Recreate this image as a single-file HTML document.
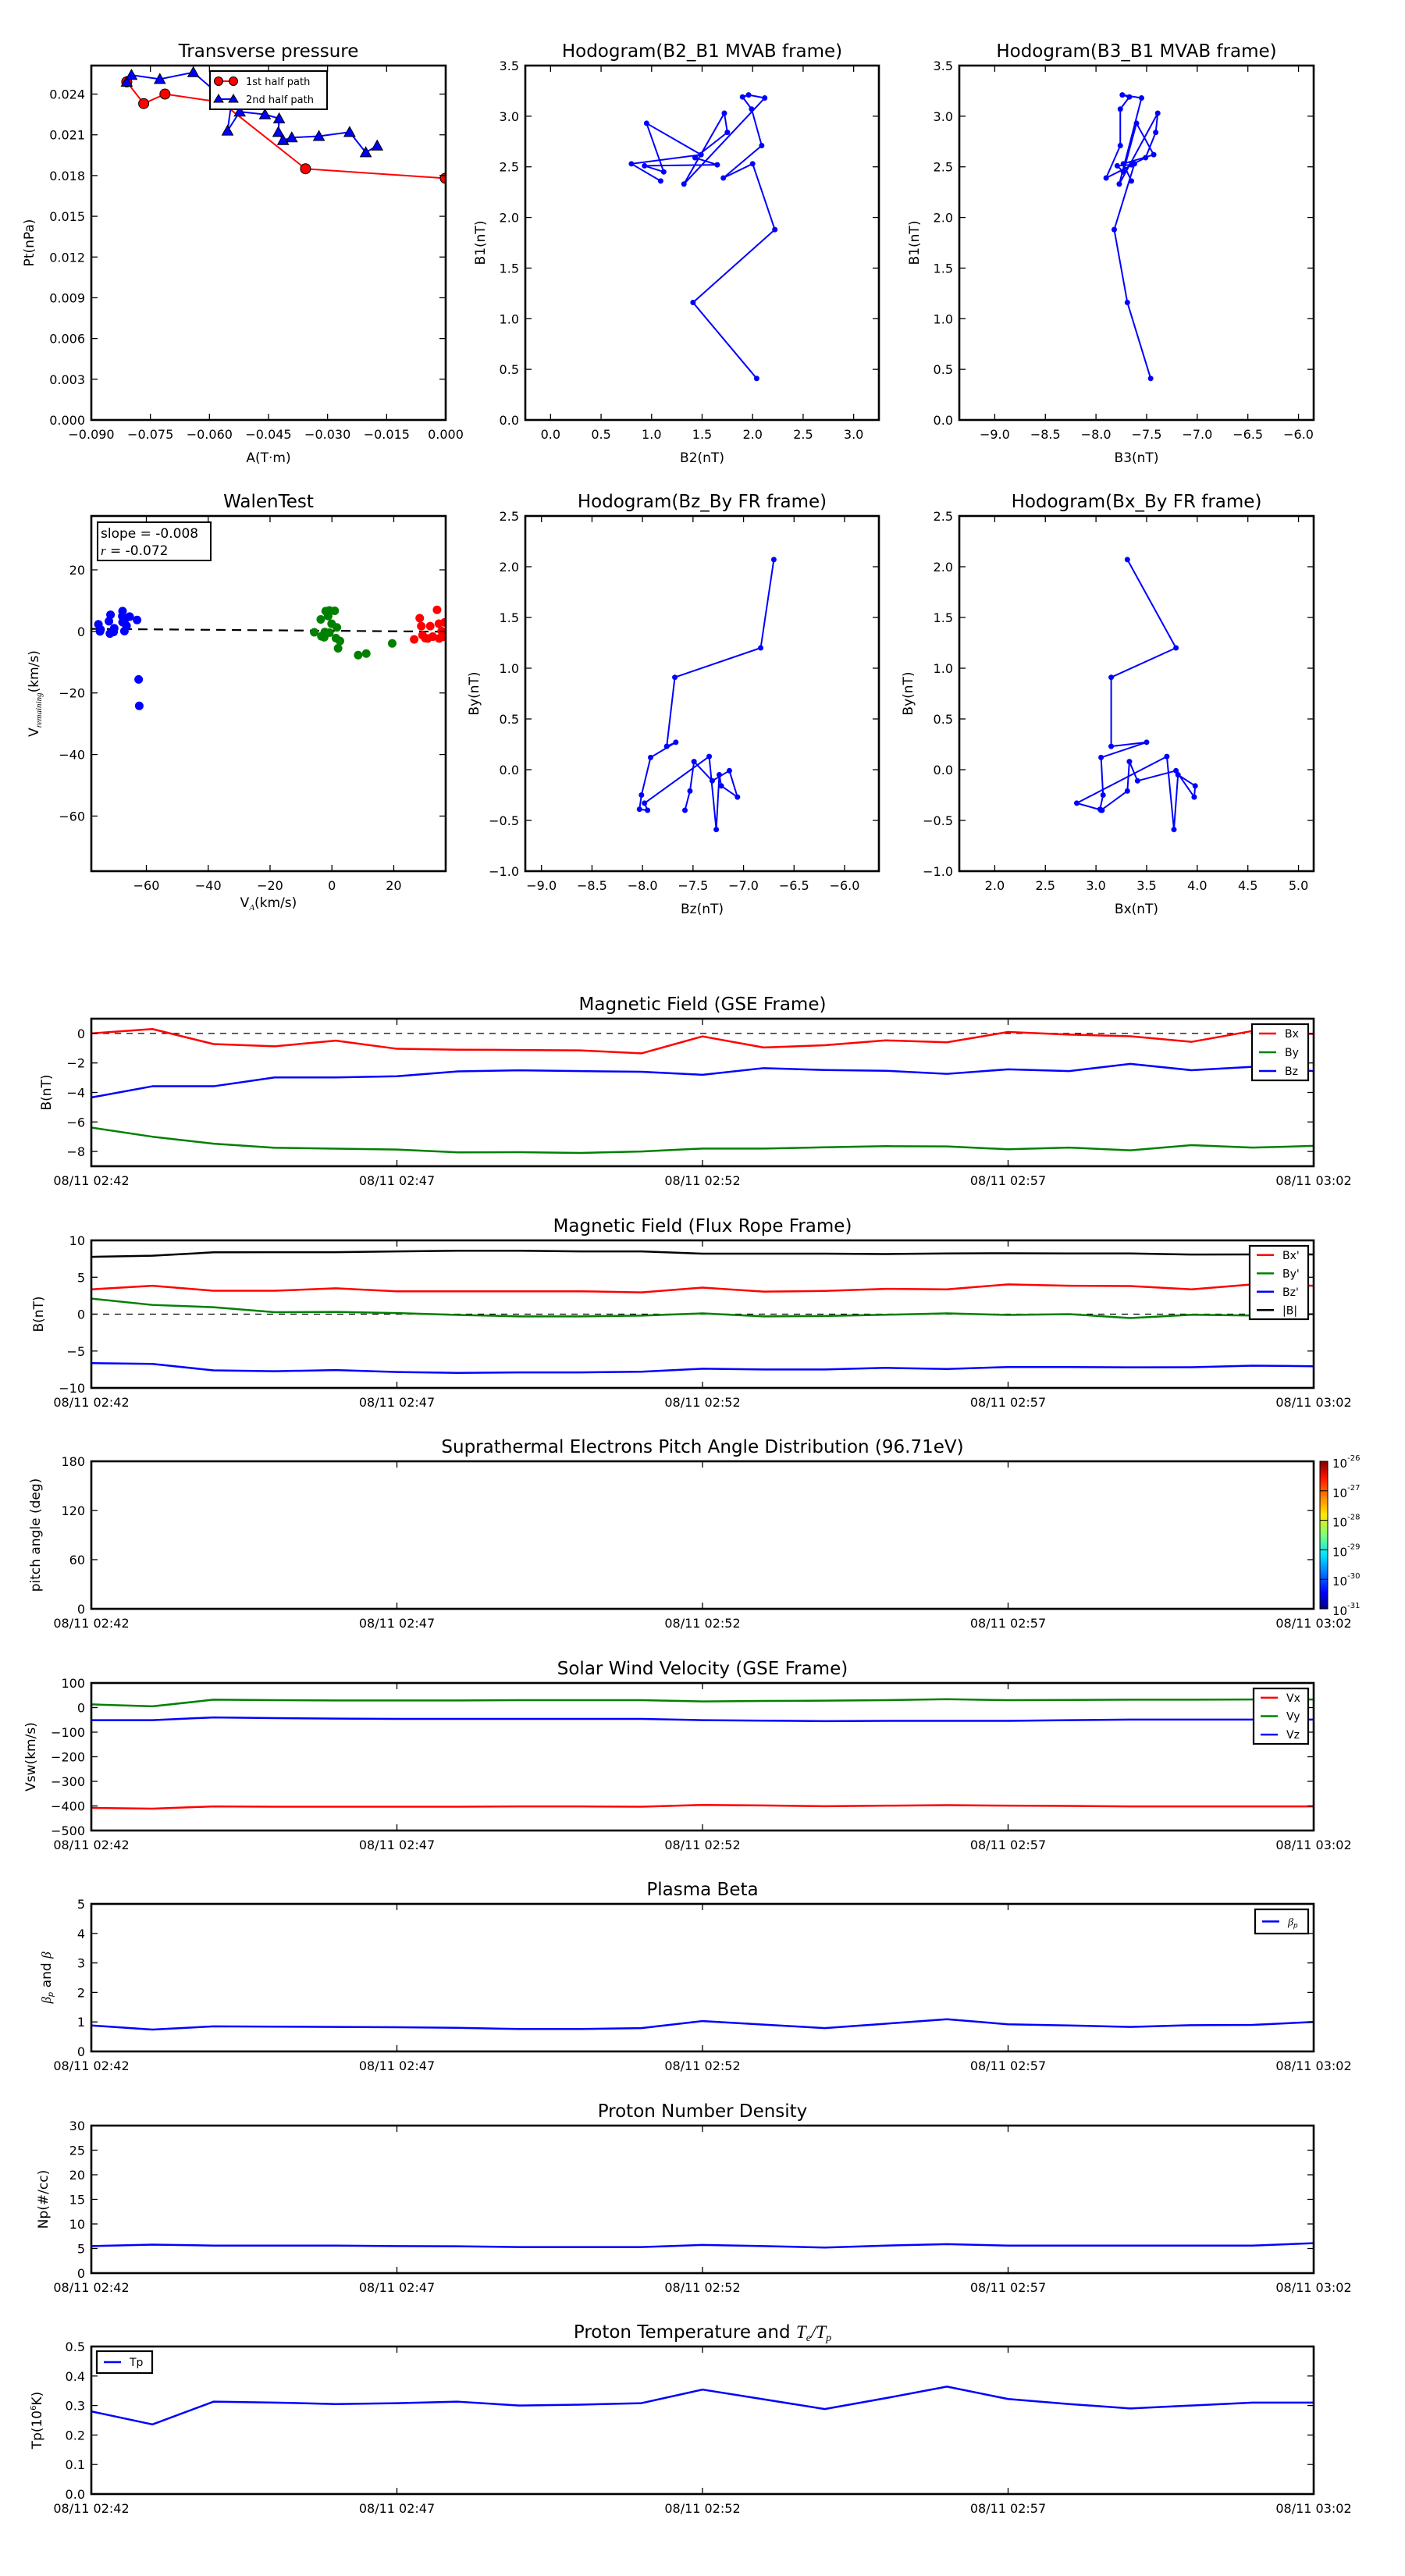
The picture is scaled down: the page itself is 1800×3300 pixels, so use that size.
<!DOCTYPE html>
<html><head><meta charset="utf-8">
<style>
html,body{margin:0;padding:0;background:#fff;}
svg{display:block;font-family:"DejaVu Sans","Liberation Sans",sans-serif;}
</style></head>
<body>
<svg id="fig" xmlns="http://www.w3.org/2000/svg" width="1800" height="3300" viewBox="0 0 1800 3300">
<defs>
<linearGradient id="jet" x1="0" y1="1" x2="0" y2="0">
<stop offset="0" stop-color="#00007f"/><stop offset="0.11" stop-color="#0000ff"/><stop offset="0.36" stop-color="#00e0ff"/><stop offset="0.5" stop-color="#7dff7a"/><stop offset="0.64" stop-color="#ffe600"/><stop offset="0.89" stop-color="#ff1300"/><stop offset="1" stop-color="#7f0000"/>
</linearGradient>
</defs>
</svg>
<script>
// ---------- data ----------
const tpA=[-0.0810,-0.0767,-0.0713,-0.0570,-0.0356,-0.0001];
const tpPtA=[0.0249,0.0233,0.0240,0.0234,0.0185,0.0178];
const tpB=[-0.0810,-0.0798,-0.0726,-0.0641,-0.0545,-0.0554,-0.0523,-0.0459,-0.0423,-0.0425,-0.0413,-0.0391,-0.0322,-0.0244,-0.0203,-0.0174];
const tpPtB=[0.0249,0.0254,0.0251,0.0256,0.0232,0.0213,0.0227,0.0225,0.0222,0.0212,0.0206,0.0208,0.0209,0.0212,0.0197,0.0202];
const mvB1=[0.41,1.16,1.88,2.53,2.39,2.71,3.07,3.19,3.21,3.18,2.33,3.03,2.84,2.59,2.52,2.51,2.45,2.93,2.62,2.53,2.36];
const mvB2=[2.04,1.41,2.22,2.0,1.71,2.09,1.99,1.9,1.96,2.12,1.32,1.72,1.75,1.43,1.65,0.93,1.12,0.95,1.49,0.8,1.09];
const mvB3=[-7.46,-7.69,-7.82,-7.62,-7.90,-7.76,-7.76,-7.67,-7.74,-7.55,-7.77,-7.39,-7.41,-7.51,-7.65,-7.79,-7.73,-7.60,-7.43,-7.73,-7.65];
const walBlueX=[-75.5,-75,-74.8,-72.1,-71.6,-71.8,-70.6,-70.4,-67.7,-67.8,-67.7,-66.9,-67.1,-66.4,-65.4,-63,-62.5,-62.3];
const walBlueY=[2.3,0,0.6,3.3,5.4,-0.7,-0.2,1.0,6.6,4.9,3.0,4.0,0.1,1.8,4.8,3.7,-15.6,-24.2];
const walGreenX=[-5.7,-3.6,-2,-1.2,-0.8,0.9,-3.4,-2.5,-2.3,-0.8,-0.1,1.6,1.3,2.6,2.0,8.5,11.1,19.5];
const walGreenY=[-0.3,3.9,6.6,5.0,6.8,6.7,-1.6,-1.9,-0.2,-0.4,2.5,1.3,-2.2,-3.1,-5.5,-7.7,-7.2,-3.9];
const walRedX=[26.6,28.4,28.9,29.3,30.2,31,31.8,32.6,34,34.6,34.7,35.5,36.4,36.6];
const walRedY=[-2.6,4.3,1.7,-1.2,-2.2,-2.3,1.7,-1.7,7.0,2.5,-2.3,0.1,2.9,-1.8];
const walSlope=-0.008, walIntercept=0.2;
const frBy=[2.07,1.2,0.91,0.23,0.27,0.12,-0.25,-0.39,-0.40,-0.33,0.13,-0.59,-0.05,-0.16,-0.27,-0.01,-0.11,0.08,-0.21,-0.40];
const frBz=[-6.70,-6.83,-7.68,-7.76,-7.67,-7.92,-8.01,-8.03,-7.95,-7.98,-7.34,-7.27,-7.24,-7.22,-7.06,-7.14,-7.31,-7.49,-7.53,-7.58];
const frBx=[3.31,3.79,3.15,3.15,3.50,3.05,3.07,3.04,3.06,2.81,3.70,3.77,3.81,3.98,3.97,3.79,3.41,3.33,3.31,3.05];
const minutes=[0,1,2,3,4,5,6,7,8,9,10,11,12,13,14,15,16,17,18,19,20];
const timeTicks=[0,5,10,15,20];
const timeLabels=["08/11 02:42","08/11 02:47","08/11 02:52","08/11 02:57","08/11 03:02"];
const gseBx=[0.0,0.3,-0.72,-0.87,-0.49,-1.04,-1.1,-1.12,-1.15,-1.35,-0.2,-0.95,-0.8,-0.47,-0.6,0.1,-0.08,-0.19,-0.57,0.17,-0.04];
const gseBy=[-6.38,-7.0,-7.47,-7.75,-7.81,-7.87,-8.06,-8.05,-8.1,-8.0,-7.8,-7.8,-7.72,-7.64,-7.66,-7.85,-7.74,-7.92,-7.57,-7.74,-7.62];
const gseBz=[-4.34,-3.58,-3.58,-2.98,-2.98,-2.9,-2.57,-2.5,-2.55,-2.6,-2.8,-2.35,-2.48,-2.53,-2.74,-2.43,-2.55,-2.06,-2.49,-2.26,-2.55];
const frTx=[3.36,3.85,3.17,3.17,3.5,3.09,3.09,3.1,3.1,2.95,3.6,3.05,3.15,3.43,3.36,4.04,3.85,3.81,3.36,4.04,3.85];
const frTy=[2.11,1.25,0.94,0.26,0.3,0.15,-0.1,-0.3,-0.3,-0.2,0.1,-0.3,-0.25,-0.08,0.11,-0.11,0,-0.53,-0.08,-0.19,0];
const frTz=[-6.64,-6.75,-7.62,-7.74,-7.58,-7.85,-7.96,-7.9,-7.9,-7.8,-7.4,-7.5,-7.5,-7.28,-7.43,-7.17,-7.17,-7.21,-7.2,-6.98,-7.06];
const frTmag=[7.77,7.92,8.38,8.4,8.4,8.5,8.6,8.6,8.5,8.5,8.2,8.2,8.2,8.15,8.23,8.26,8.23,8.23,8.08,8.1,8.1];
const vswX=[-408,-411,-402,-403,-403,-403,-403,-402,-402,-403,-396,-398,-401,-399,-397,-399,-400,-402,-402,-402,-402];
const vswY=[13,5,32,30,29,29,29,30,30,30,25,27,28,30,34,30,31,32,32,33,33];
const vswZ=[-51,-51,-40,-43,-45,-46,-46,-46,-46,-46,-51,-53,-55,-54,-54,-54,-51,-49,-49,-49,-49];
const betaP=[0.88,0.74,0.85,0.84,0.83,0.82,0.8,0.76,0.76,0.79,1.03,0.91,0.79,0.94,1.09,0.92,0.88,0.83,0.89,0.9,1.0];
const densNp=[5.5,5.8,5.6,5.6,5.6,5.5,5.45,5.3,5.3,5.3,5.74,5.5,5.2,5.6,5.9,5.6,5.6,5.6,5.6,5.6,6.1];
const tempTp=[0.28,0.236,0.313,0.31,0.305,0.308,0.313,0.30,0.303,0.308,0.354,0.321,0.288,0.325,0.364,0.322,0.305,0.29,0.30,0.31,0.31];
const cbarLabels=["-26","-27","-28","-29","-30","-31"];

// ---------- helpers ----------
const NS='http://www.w3.org/2000/svg';
const svg=document.getElementById('fig');
function mk(tag,parent){const e=document.createElementNS(NS,tag);(parent||svg).appendChild(e);return e;}
function set(e,a){for(const k in a)e.setAttribute(k,a[k]);return e;}
function fmt(v,d){const s=v.toFixed(d);return s.replace('-','\u2212');}
function txt(parent,x,y,s,size,anchor){const t=mk('text',parent);set(t,{x:x,y:y,'font-size':size,'text-anchor':anchor||'middle',fill:'#000'});t.textContent=s;return t;}

function panel(o){
  const g=mk('g');
  
  
  const sx=v=>o.L+(v-o.xmin)/(o.xmax-o.xmin)*(o.R-o.L);
  const sy=v=>o.B-(v-o.ymin)/(o.ymax-o.ymin)*(o.B-o.T);
  const plot=mk('g',g);
  
  
  const clip=mk('clipPath',g);clip.id='c'+o.name;
  set(mk('rect',clip),{x:o.L,y:o.T,width:o.R-o.L,height:o.B-o.T});
  plot.setAttribute('clip-path','url(#c'+o.name+')');
  const ax=mk('g',g);
  
  
  const tl=8;
  o.xticks.forEach((v,i)=>{
    const x=sx(v);
    set(mk('line',ax),{x1:x,x2:x,y1:o.B,y2:o.B-tl,stroke:'#000','stroke-width':1.3});
    set(mk('line',ax),{x1:x,x2:x,y1:o.T,y2:o.T+tl,stroke:'#000','stroke-width':1.3});
    const t=txt(ax,x,o.B+(o.xlabOff||24),o.xlabels[i],o.fs||16);
    
    
  });
  o.yticks.forEach((v,i)=>{
    const y=sy(v);
    set(mk('line',ax),{x1:o.L,x2:o.L+tl,y1:y,y2:y,stroke:'#000','stroke-width':1.3});
    set(mk('line',ax),{x1:o.R,x2:o.R-tl,y1:y,y2:y,stroke:'#000','stroke-width':1.3});
    const t=txt(ax,o.L-8,y+6,o.ylabels[i],o.fs||16,'end');
    
    
  });
  const fr=mk('rect',ax);
  set(fr,{x:o.L,y:o.T,width:o.R-o.L,height:o.B-o.T,fill:'none',stroke:'#000','stroke-width':2.6});
  
  
  if(o.title){const t=txt(ax,(o.L+o.R)/2,o.T-11,o.title,23);
    
    }
  if(o.xtitle){const t=txt(ax,(o.L+o.R)/2,o.B+54,o.xtitle,17);
    
    }
  if(o.ytitle){const cx=o.L-(o.ytOff||60),cy=(o.T+o.B)/2;const t=txt(ax,cx,cy,'',17);
    set(t,{transform:'rotate(-90 '+cx+' '+cy+')'});
    if(o.ytitleHTML){t.innerHTML=o.ytitleHTML;}else{t.textContent=o.ytitle;}
    
    }
  return {g,plot,sx,sy,o};
}
function line(p,xs,ys,color,w,name){
  const pl=mk('polyline',p.plot);
  set(pl,{points:xs.map((x,i)=>p.sx(x)+','+p.sy(ys[i])).join(' '),fill:'none',stroke:color,'stroke-width':w||2.5,'stroke-linejoin':'round'});
  
  
  return pl;
}
function dots(p,xs,ys,color,r,name,edge){
  xs.forEach((x,i)=>{
    const c=mk('circle',p.plot);
    set(c,{cx:p.sx(x),cy:p.sy(ys[i]),r:r,fill:color,stroke:edge||'none','stroke-width':1});
    
    
  });
}
function tris(p,xs,ys,color,s,name){
  xs.forEach((x,i)=>{
    const cx=p.sx(x),cy=p.sy(ys[i]);
    const t=mk('polygon',p.plot);
    set(t,{points:cx+','+(cy-s)+' '+(cx-s)+','+(cy+s*0.8)+' '+(cx+s)+','+(cy+s*0.8),fill:color,stroke:'#000','stroke-width':1});
    
    
  });
}
function legend(p,x,y,w,h,items){
  const g=mk('g',p.g);
  
  
  set(mk('rect',g),{x:x,y:y,width:w,height:h,fill:'#fff',stroke:'#000','stroke-width':2.2});
  const step=h/items.length;
  items.forEach((it,i)=>{
    const cy=y+step*(i+0.5);
    const e=mk('g',g);
    
    
    set(mk('line',e),{x1:x+9,x2:x+31,y1:cy,y2:cy,stroke:it.c,'stroke-width':2.5});
    const t=txt(e,x+42,cy+5,'',14,'start');
    if(it.html)t.innerHTML=it.html;else t.textContent=it.t;
  });
}
function rng(a,b,s){const r=[];for(let v=a;v<=b+1e-9;v+=s)r.push(+v.toFixed(6));return r;}

// ---------- Transverse pressure ----------
{const xt=rng(-0.09,0,0.015),yt=rng(0,0.024,0.003);
const p=panel({name:'transverse-pressure',L:117,R:571,T:84,B:538,xmin:-0.09,xmax:0,ymin:0,ymax:0.0261,
 xticks:xt,xlabels:xt.map(v=>fmt(v,3)),yticks:yt,ylabels:yt.map(v=>fmt(v,3)),title:'Transverse pressure',xtitle:'A(T\u00b7m)',ytitle:'Pt(nPa)',ytOff:74});
line(p,tpA,tpPtA,'#ff0000',2,'first-half-path-line');
dots(p,tpA,tpPtA,'#ff0000',6.5,'first-half-point','#000');
line(p,tpB,tpPtB,'#0000ff',2,'second-half-path-line');
tris(p,tpB,tpPtB,'#0000ff',7,'second-half-point');
const g=mk('g',p.g);


set(mk('rect',g),{x:269,y:91,width:150,height:49,fill:'#fff',stroke:'#000','stroke-width':2});
set(mk('line',g),{x1:280,x2:299,y1:104,y2:104,stroke:'#f00','stroke-width':2});
set(mk('circle',g),{cx:280,cy:104,r:5.5,fill:'#f00',stroke:'#000'});
set(mk('circle',g),{cx:299,cy:104,r:5.5,fill:'#f00',stroke:'#000'});
txt(g,315,109,'1st half path',13,'start');
set(mk('line',g),{x1:280,x2:299,y1:127,y2:127,stroke:'#00f','stroke-width':2});
set(mk('polygon',g),{points:'280,121 274,131 286,131',fill:'#00f',stroke:'#000'});
set(mk('polygon',g),{points:'299,121 293,131 305,131',fill:'#00f',stroke:'#000'});
txt(g,315,132,'2nd half path',13,'start');}

// ---------- Hodogram B2_B1 ----------
{const xt=rng(0,3,0.5),yt=rng(0,3.5,0.5);
const p=panel({name:'hodogram-b2-b1',L:673,R:1126,T:84,B:538,xmin:-0.25,xmax:3.25,ymin:0,ymax:3.5,
 xticks:xt,xlabels:xt.map(v=>fmt(v,1)),yticks:yt,ylabels:yt.map(v=>fmt(v,1)),title:'Hodogram(B2_B1 MVAB frame)',xtitle:'B2(nT)',ytitle:'B1(nT)',ytOff:52});
line(p,mvB2,mvB1,'#0000ff',2,'hodogram-line');
dots(p,mvB2,mvB1,'#0000ff',3.5,'hodogram-point');}

// ---------- Hodogram B3_B1 ----------
{const xt=rng(-9,-6,0.5),yt=rng(0,3.5,0.5);
const p=panel({name:'hodogram-b3-b1',L:1229,R:1683,T:84,B:538,xmin:-9.35,xmax:-5.85,ymin:0,ymax:3.5,
 xticks:xt,xlabels:xt.map(v=>fmt(v,1)),yticks:yt,ylabels:yt.map(v=>fmt(v,1)),title:'Hodogram(B3_B1 MVAB frame)',xtitle:'B3(nT)',ytitle:'B1(nT)',ytOff:52});
line(p,mvB3,mvB1,'#0000ff',2,'hodogram-line');
dots(p,mvB3,mvB1,'#0000ff',3.5,'hodogram-point');}

// ---------- Walen test ----------
{const xt=[-60,-40,-20,0,20],yt=[-60,-40,-20,0,20];
const p=panel({name:'walen-test',L:117,R:571,T:661,B:1116,xmin:-77.8,xmax:36.8,ymin:-77.9,ymax:37.5,
 xticks:xt,xlabels:xt.map(v=>fmt(v,0)),yticks:yt,ylabels:yt.map(v=>fmt(v,0)),title:'WalenTest',xtitle:'',
 ytitle:'x',ytitleHTML:'V<tspan font-size="11" font-style="italic" font-family="Liberation Serif" dy="4">remaining</tspan><tspan dy="-4">(km/s)</tspan>',ytOff:68});
const xt2=txt(p.g,344,1162,'',17);
xt2.innerHTML='V<tspan font-size="11" font-style="italic" font-family="Liberation Serif" dy="4">A</tspan><tspan dy="-4">(km/s)</tspan>';


const fx=[p.o.xmin,p.o.xmax];
const fl=mk('line',p.plot);
set(fl,{x1:p.sx(fx[0]),y1:p.sy(walIntercept+walSlope*fx[0]),x2:p.sx(fx[1]),y2:p.sy(walIntercept+walSlope*fx[1]),stroke:'#000','stroke-width':2.2,'stroke-dasharray':'12,8'});


dots(p,walBlueX,walBlueY,'#0000ff',5.5,'walen-point-blue');
dots(p,walGreenX,walGreenY,'#008000',5.5,'walen-point-green');
dots(p,walRedX,walRedY,'#ff0000',5.5,'walen-point-red');
const b=mk('g',p.g);


set(mk('rect',b),{x:125,y:669,width:145,height:49,fill:'#fff',stroke:'#000','stroke-width':2});
txt(b,129,689,'slope = -0.008',17,'start');
const r=txt(b,129,711,'',17,'start');
r.innerHTML='<tspan font-style="italic" font-family="Liberation Serif">r</tspan> = -0.072';}

// ---------- Hodogram Bz_By ----------
{const xt=rng(-9,-6,0.5),yt=rng(-1,2.5,0.5);
const p=panel({name:'hodogram-bz-by',L:673,R:1126,T:661,B:1116,xmin:-9.16,xmax:-5.66,ymin:-1,ymax:2.5,
 xticks:xt,xlabels:xt.map(v=>fmt(v,1)),yticks:yt,ylabels:yt.map(v=>fmt(v,1)),title:'Hodogram(Bz_By FR frame)',xtitle:'Bz(nT)',ytitle:'By(nT)',ytOff:60});
line(p,frBz,frBy,'#0000ff',2,'hodogram-line');
dots(p,frBz,frBy,'#0000ff',3.5,'hodogram-point');}

// ---------- Hodogram Bx_By ----------
{const xt=rng(2,5,0.5),yt=rng(-1,2.5,0.5);
const p=panel({name:'hodogram-bx-by',L:1229,R:1683,T:661,B:1116,xmin:1.65,xmax:5.15,ymin:-1,ymax:2.5,
 xticks:xt,xlabels:xt.map(v=>fmt(v,1)),yticks:yt,ylabels:yt.map(v=>fmt(v,1)),title:'Hodogram(Bx_By FR frame)',xtitle:'Bx(nT)',ytitle:'By(nT)',ytOff:60});
line(p,frBx,frBy,'#0000ff',2,'hodogram-line');
dots(p,frBx,frBy,'#0000ff',3.5,'hodogram-point');}

// ---------- time series ----------
function tpanel(name,T,ymin,ymax,yt,ylabs,title,ytitle,ytOff,ytHTML){
  return panel({name:name,L:117,R:1683,T:T,B:T+189,xmin:0,xmax:20,ymin:ymin,ymax:ymax,
    xticks:timeTicks,xlabels:timeLabels,yticks:yt,ylabels:ylabs,title:title,ytitle:ytitle,ytitleHTML:ytHTML,ytOff:ytOff,xlabOff:24});
}
function zero(p){const l=mk('line',p.plot);
  set(l,{x1:p.o.L,x2:p.o.R,y1:p.sy(0),y2:p.sy(0),stroke:'#000','stroke-width':1.3,'stroke-dasharray':'8,7'});
  
  }

{const yt=[-8,-6,-4,-2,0];
const p=tpanel('magnetic-field-gse',1305,-9,1,yt,yt.map(v=>fmt(v,0)),'Magnetic Field (GSE Frame)','B(nT)',52);
zero(p);
line(p,minutes,gseBx,'#ff0000',2.5,'series-bx');
line(p,minutes,gseBy,'#008000',2.5,'series-by');
line(p,minutes,gseBz,'#0000ff',2.5,'series-bz');
legend(p,1604,1312,72,72,[{t:'Bx',c:'#f00'},{t:'By',c:'#008000'},{t:'Bz',c:'#00f'}]);}

{const yt=[-10,-5,0,5,10];
const p=tpanel('magnetic-field-flux-rope',1589,-10,10,yt,yt.map(v=>fmt(v,0)),'Magnetic Field (Flux Rope Frame)','B(nT)',62);
zero(p);
line(p,minutes,frTmag,'#000000',2.5,'series-bmag');
line(p,minutes,frTx,'#ff0000',2.5,'series-bx-prime');
line(p,minutes,frTy,'#008000',2.5,'series-by-prime');
line(p,minutes,frTz,'#0000ff',2.5,'series-bz-prime');
legend(p,1601,1596,75,94,[{t:"Bx'",c:'#f00'},{t:"By'",c:'#008000'},{t:"Bz'",c:'#00f'},{t:'|B|',c:'#000'}]);}

{const yt=[0,60,120,180];
const p=tpanel('pitch-angle-distribution',1872,0,180,yt,yt.map(v=>String(v)),'Suprathermal Electrons Pitch Angle Distribution (96.71eV)','pitch angle (deg)',66);
const cb=mk('rect');
set(cb,{x:1691,y:1872,width:10,height:189,fill:'url(#jet)',stroke:'#000','stroke-width':1});


cbarLabels.forEach((s,i)=>{
  const y=1872+i*189/5;
  set(mk('line'),{x1:1691,x2:1701,y1:y,y2:y,stroke:'#000','stroke-width':1});
  const t=txt(svg,1707,y+8,'',15,'start');
  t.innerHTML='10<tspan font-size="10" dy="-9">'+s+'</tspan>';
  
  
});}

{const yt=[-500,-400,-300,-200,-100,0,100];
const p=tpanel('solar-wind-velocity',2156,-500,100,yt,yt.map(v=>fmt(v,0)),'Solar Wind Velocity (GSE Frame)','Vsw(km/s)',72);
line(p,minutes,vswX,'#ff0000',2.5,'series-vx');
line(p,minutes,vswY,'#008000',2.5,'series-vy');
line(p,minutes,vswZ,'#0000ff',2.5,'series-vz');
legend(p,1606,2163,70,71,[{t:'Vx',c:'#f00'},{t:'Vy',c:'#008000'},{t:'Vz',c:'#00f'}]);}

{const yt=[0,1,2,3,4,5];
const p=tpanel('plasma-beta',2439,0,5,yt,yt.map(v=>String(v)),'Plasma Beta','x',52,
 '<tspan font-family="Liberation Serif" font-style="italic">\u03b2</tspan><tspan font-size="10" dy="3" font-style="italic">p</tspan><tspan dy="-3"> and </tspan><tspan font-family="Liberation Serif" font-style="italic">\u03b2</tspan>');
line(p,minutes,betaP,'#0000ff',2.5,'series-beta-p');
legend(p,1608,2446,68,31,[{html:'<tspan font-family="Liberation Serif" font-style="italic">\u03b2</tspan><tspan font-size="9" dy="3" font-style="italic">p</tspan>',c:'#00f'}]);}

{const yt=[0,5,10,15,20,25,30];
const p=tpanel('proton-number-density',2723,0,30,yt,yt.map(v=>String(v)),'Proton Number Density','Np(#/cc)',56);
line(p,minutes,densNp,'#0000ff',2.5,'series-np');}

{const yt=[0,0.1,0.2,0.3,0.4,0.5];
const p=tpanel('proton-temperature',3006,0,0.5,yt,yt.map(v=>v.toFixed(1)),'','x',64,
 'Tp(10<tspan font-size="10" dy="-7">6</tspan><tspan dy="7">K)</tspan>');
const t=txt(p.g,900,2995,'',23);
t.innerHTML='Proton Temperature and <tspan font-family="Liberation Serif" font-style="italic">T</tspan><tspan font-family="Liberation Serif" font-style="italic" font-size="14" dy="4">e</tspan><tspan dy="-4" font-family="Liberation Serif" font-style="italic">/T</tspan><tspan font-family="Liberation Serif" font-style="italic" font-size="14" dy="4">p</tspan>';


line(p,minutes,tempTp,'#0000ff',2.5,'series-tp');
legend(p,124,3012,71,28,[{t:'Tp',c:'#00f'}]);}
</script>
</body></html>
